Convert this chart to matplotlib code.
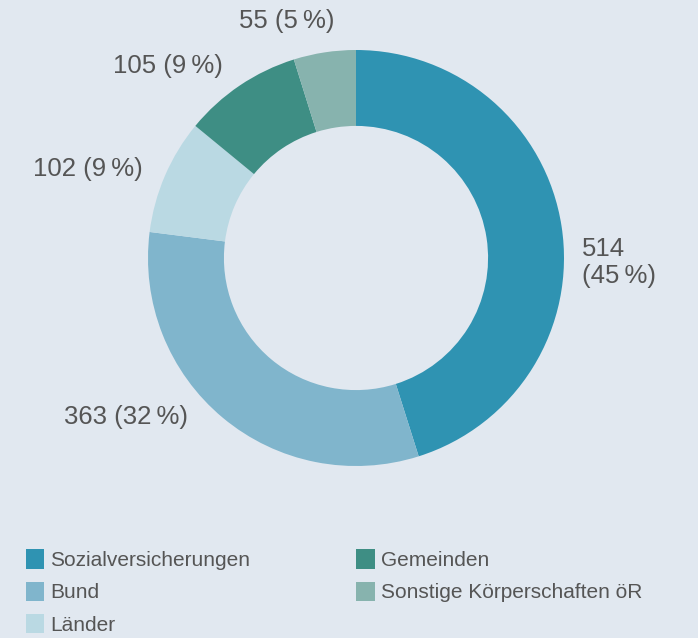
import matplotlib.pyplot as plt
import numpy as np

plt.rcParams['font.family'] = ['Liberation Sans', 'DejaVu Sans']

names = ['Sozialversicherungen', 'Bund', 'Länder', 'Gemeinden',
         'Sonstige Körperschaften öR']
values = [514, 363, 102, 105, 55]
percents = [45, 32, 9, 9, 5]
colors = ['#2f93b2', '#80b5cc', '#bad9e3', '#3e8e84', '#87b3ae']

# label anchor positions (axes data units) and alignment
label_pos = [(1.085, -0.02, 'left'), (-0.81, -0.765, 'right'),
             (-1.025, 0.43, 'right'), (-0.64, 0.925, 'right'),
             (-0.335, 1.14, 'center')]

bg = '#e1e8f0'
fig = plt.figure(figsize=(6.98, 6.38), dpi=100, facecolor=bg)
ax = fig.add_axes([148/698, 172/638, 416/698, 416/638])
ax.set_facecolor(bg)

wedges, _ = ax.pie(values, colors=colors, startangle=90, counterclock=False,
                   radius=1, wedgeprops=dict(width=0.365, linewidth=0))
ax.set_xlim(-1, 1)
ax.set_ylim(-1, 1)
ax.set_aspect('equal')
ax.axis('off')

for i, (v, p) in enumerate(zip(values, percents)):
    x, y, ha = label_pos[i]
    if i == 0:
        txt = f'{v}\n({p}\u2009%)'
    else:
        txt = f'{v} ({p}\u2009%)'
    ax.text(x, y, txt, ha=ha, va='center', fontsize=18.5, color='#555555',
            linespacing=1.15, clip_on=False)

leg = fig.legend(wedges, names, loc='upper left', bbox_to_anchor=(0.025, 0.152),
                 ncol=2, frameon=False, fontsize=15, handlelength=0.87,
                 handleheight=1.05, handletextpad=0.3, columnspacing=5.1,
                 labelspacing=0.55, borderaxespad=0)
for t in leg.get_texts():
    t.set_color('#555555')

fig.savefig('out.png', dpi=100, facecolor=bg)
